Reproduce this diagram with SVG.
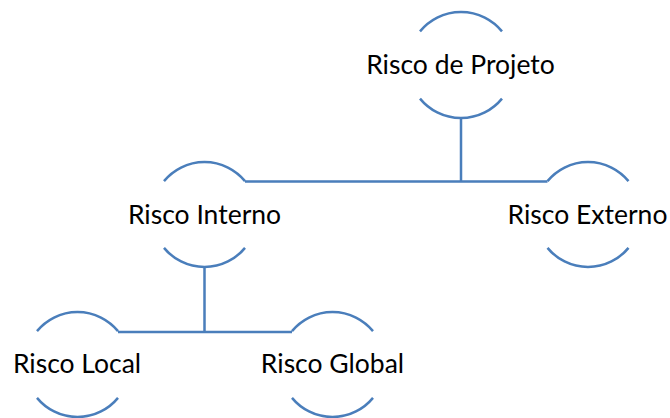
<svg xmlns="http://www.w3.org/2000/svg" width="670" height="418" viewBox="0 0 670 418">
  <style>
    .arc { fill: none; stroke: #4a7ebb; stroke-width: 2.5; }
    .link { fill: none; stroke: #4a7ebb; stroke-width: 2.5; }
    .label { font-family: Lato, "Liberation Sans", Arial, sans-serif; font-size: 26.5px; fill: #000; text-anchor: middle; }
  </style>
  <rect width="670" height="418" fill="#ffffff"/>

  <!-- connectors -->
  <g id="connectors">
    <path class="link" d="M461 118 V181.5 M245 181.5 H547.5"/>
    <path class="link" d="M204.5 267 V332 M118 332 H292"/>
  </g>

  <!-- nodes: circle outline shown as top and bottom arcs around the label -->
  <g id="node-projeto">
    <path class="arc" d="M420 31.4 A53 53 0 0 1 502 31.4"/>
    <path class="arc" d="M420 98.6 A53 53 0 0 0 502 98.6"/>
    <text class="label" x="460.5" y="74">Risco de Projeto</text>
  </g>

  <g id="node-interno">
    <path class="arc" d="M164 181.1 A52.5 52.5 0 0 1 245 181.1"/>
    <path class="arc" d="M164 247.9 A52.5 52.5 0 0 0 245 247.9"/>
    <text class="label" x="204.5" y="224">Risco Interno</text>
  </g>

  <g id="node-externo">
    <path class="arc" d="M547.5 181.1 A52.5 52.5 0 0 1 628.5 181.1"/>
    <path class="arc" d="M547.5 247.9 A52.5 52.5 0 0 0 628.5 247.9"/>
    <text class="label" x="587.5" y="224">Risco Externo</text>
  </g>

  <g id="node-local">
    <path class="arc" d="M37 331.1 A52.5 52.5 0 0 1 118 331.1"/>
    <path class="arc" d="M37 397.9 A52.5 52.5 0 0 0 118 397.9"/>
    <text class="label" x="77" y="373">Risco Local</text>
  </g>

  <g id="node-global">
    <path class="arc" d="M292 331.1 A52.5 52.5 0 0 1 373 331.1"/>
    <path class="arc" d="M292 397.9 A52.5 52.5 0 0 0 373 397.9"/>
    <text class="label" x="332.5" y="373">Risco Global</text>
  </g>
</svg>
